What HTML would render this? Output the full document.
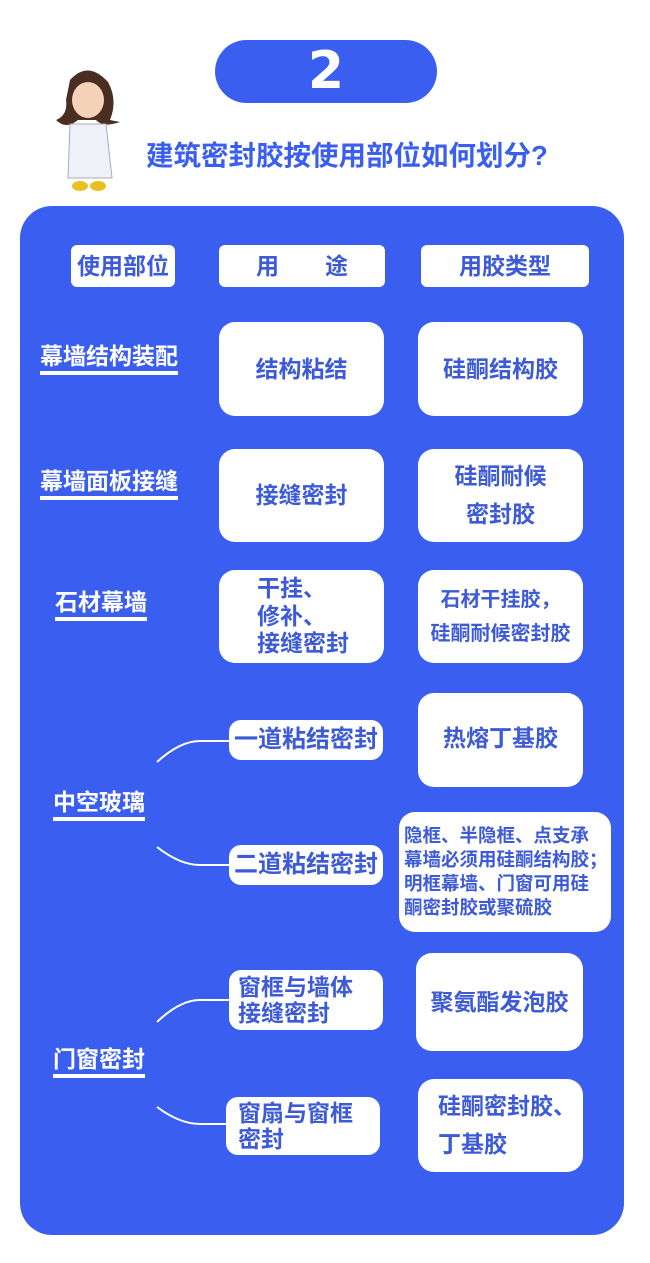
<!DOCTYPE html>
<html><head><meta charset="utf-8"><style>
*{margin:0;padding:0;box-sizing:border-box}
body{width:650px;height:1263px;background:#fff;position:relative;overflow:hidden;font-family:"Liberation Sans","Noto Sans CJK SC",sans-serif;font-weight:bold}
.a{position:absolute}
.pill{left:215px;top:40px;width:222px;height:63px;background:#3a5ff0;border-radius:32px;color:#fff;font-size:52px;text-align:center;line-height:63px;font-family:"DejaVu Sans",sans-serif}
.title{left:146px;top:138px;color:#3a5ff0;font-size:27.5px;white-space:nowrap;line-height:36px}
.panel{left:20px;top:206px;width:604px;height:1029px;background:#3a5ff0;border-radius:32px}
.box{background:#fff;color:#3d5bd6;border-radius:16px;display:flex;align-items:center;justify-content:center;text-align:center;font-size:23px;line-height:1.5}
.hb{border-radius:6px;font-size:23px}
.lbl{color:#fff;font-size:23px;white-space:nowrap;border-bottom:4px solid #fff;padding-bottom:1px;line-height:28px}
.l{text-align:left;justify-content:flex-start;padding-left:20px}
</style></head><body>
<div class="a pill">2</div>
<svg class="a" style="left:48px;top:60px" width="90" height="140" viewBox="0 0 90 140">
<path d="M22 20 Q40 0 60 22 Q70 40 62 60 L72 62 Q55 68 48 60 L30 60 Q18 70 8 60 Q20 55 18 40 Z" fill="#4a2e22"/>
<ellipse cx="40" cy="40" rx="16" ry="18" fill="#f6d2b8"/>
<path d="M22 64 L58 64 L64 118 L20 118 Z" fill="#eef2f8" stroke="#aab" stroke-width="1"/>
<ellipse cx="32" cy="126" rx="8" ry="5" fill="#e8c020"/>
<ellipse cx="50" cy="126" rx="8" ry="5" fill="#e8c020"/>
</svg>
<div class="a title">建筑密封胶按使用部位如何划分?</div>
<div class="a panel"></div>

<div class="a box hb" style="left:71px;top:245px;width:104px;height:42px">使用部位</div>
<div class="a box hb" style="left:219px;top:245px;width:166px;height:42px">用&emsp;&emsp;途</div>
<div class="a box hb" style="left:421px;top:245px;width:168px;height:42px">用胶类型</div>

<div class="a lbl" style="left:40px;top:342px">幕墙结构装配</div>
<div class="a box" style="left:219px;top:322px;width:165px;height:94px">结构粘结</div>
<div class="a box" style="left:418px;top:322px;width:165px;height:94px">硅酮结构胶</div>

<div class="a lbl" style="left:40px;top:467px">幕墙面板接缝</div>
<div class="a box" style="left:219px;top:449px;width:165px;height:93px">接缝密封</div>
<div class="a box" style="left:418px;top:449px;width:165px;height:93px;line-height:1.65">硅酮耐候<br>密封胶</div>

<div class="a lbl" style="left:55px;top:588px">石材幕墙</div>
<div class="a box l" style="left:219px;top:570px;width:165px;height:93px;padding-left:38px;line-height:1.2">干挂、<br>修补、<br>接缝密封</div>
<div class="a box" style="left:418px;top:570px;width:165px;height:93px;line-height:1.7;font-size:20px">石材干挂胶，<br>硅酮耐候密封胶</div>

<svg class="a" style="left:0;top:0" width="650" height="1263">
<g fill="none" stroke="#fff" stroke-width="2">
<path d="M157 762 Q180 741 200 741 L230 741"/>
<path d="M157 847 Q180 865 200 865 L230 865"/>
<path d="M157 1022 Q180 1000 200 1000 L230 1000"/>
<path d="M157 1107 Q180 1124 200 1124 L230 1124"/>
</g></svg>

<div class="a box" style="left:229px;top:720px;width:154px;height:40px;border-radius:12px;font-size:24px">一道粘结密封</div>
<div class="a box" style="left:418px;top:693px;width:165px;height:94px;align-items:flex-start;padding-top:28px">热熔丁基胶</div>
<div class="a lbl" style="left:53px;top:788px">中空玻璃</div>
<div class="a box" style="left:229px;top:845px;width:154px;height:40px;border-radius:12px;font-size:24px">二道粘结密封</div>
<div class="a box" style="left:399px;top:812px;width:212px;height:120px;font-size:18.5px;line-height:1.3;text-align:left;justify-content:flex-start;padding-left:5px;white-space:nowrap">隐框、半隐框、点支承<br>幕墙必须用硅酮结构胶；<br>明框幕墙、门窗可用硅<br>酮密封胶或聚硫胶</div>

<div class="a box l" style="left:229px;top:970px;width:154px;height:60px;border-radius:12px;line-height:1.15;padding-left:9px">窗框与墙体<br>接缝密封</div>
<div class="a box" style="left:416px;top:953px;width:167px;height:98px;align-items:flex-start;padding-top:32px">聚氨酯发泡胶</div>
<div class="a lbl" style="left:53px;top:1045px">门窗密封</div>
<div class="a box l" style="left:226px;top:1097px;width:154px;height:58px;border-radius:12px;line-height:1.15;padding-left:12px">窗扇与窗框<br>密封</div>
<div class="a box l" style="left:418px;top:1079px;width:165px;height:93px;line-height:1.65;padding-left:20px">硅酮密封胶、<br>丁基胶</div>
</body></html>
